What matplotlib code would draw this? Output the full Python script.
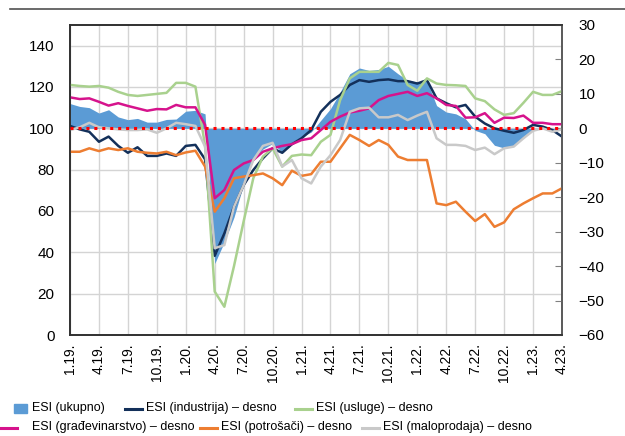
import numpy as np
import matplotlib
matplotlib.use("Agg")
import matplotlib.pyplot as plt
from matplotlib.lines import Line2D
from matplotlib.patches import Rectangle

plt.rcParams['font.family'] = ['Liberation Sans', 'DejaVu Sans']

# mjesečni podaci 1.19. - 4.23.
months = [f"{m}.{y}." for y in range(19, 24) for m in range(1, 13)][:52]
tick_labels = months[::3]

ukupno = [112, 110.6, 110, 107.4, 109, 105.5, 104.2, 104.8, 103, 103, 104.3, 104.5,
          108.3, 108.7, 107, 34.6, 45, 57, 73, 84.5, 90, 92.6, 88.5, 93.4,
          95.8, 98.2, 103.9, 109.5, 117.5, 126.4, 129.2, 128, 128.5, 130, 126.4, 123.2,
          122.4, 123, 111, 107.9, 107, 104.6, 99, 97.4, 91.8, 90.5, 91.8, 95.8,
          99.5, 100.5, 99, 100]
industrija = [0.7, -0.3, -1, -3.9, -2.4, -5.1, -7.1, -5.5, -8, -8, -7.3, -8,
              -5.1, -4.8, -9, -37, -30.5, -22.8, -16.5, -12.1, -8.7, -5.8, -7.1, -4.6,
              -2.9, -0.5, 4.8, 7.7, 9.7, 12.6, 14, 13.5, 14, 14.2, 13.7, 13.7,
              13, 14, 8.7, 7.3, 6.1, 6.8, 3.4, 1.4, 0, -0.7, -1.3, -0.5,
              1, 0.5, -0.5, -2.4]
usluge = [12.6, 12.3, 12.1, 12.3, 11.8, 10.6, 9.7, 9.4, 9.7, 10, 10.3, 13.2,
          13.2, 12.1, -5, -47.4, -51.8, -40, -27, -14.5, -8.2, -5.8, -11.1, -8,
          -7.6, -7.8, -3.9, -1.9, 8.2, 14.5, 16.4, 16.4, 16.4, 19, 18.4, 12.6,
          10.9, 14.5, 13, 12.6, 12.5, 12.3, 8.7, 7.9, 5.5, 3.9, 4.4, 7.4,
          10.6, 9.7, 9.7, 10.8]
gradjevinarstvo = [9, 8.5, 8.7, 7.7, 6.6, 7.3, 6.5, 5.8, 5.1, 5.6, 5.5, 6.8,
                   6.1, 6.1, 1, -20.3, -17.9, -12.1, -10.2, -9.2, -6.8, -5.8, -5.1, -4.6,
                   -3.4, -2.9, -0.5, 1.9, 3.4, 4.6, 5.1, 5.8, 8.2, 9.4, 10, 10.6,
                   9.4, 10.2, 8.7, 6.8, 6.5, 3.1, 3.2, 4.4, 1.6, 3.1, 3, 3.7,
                   1.6, 1.6, 1.2, 1.2]
potrosaci = [-6.8, -6.8, -5.8, -6.6, -5.8, -6.3, -5.8, -6.8, -7.1, -7.3, -6.8, -7.8,
             -7, -6.5, -11.1, -24.2, -20.3, -14.5, -14, -13.6, -13.1, -14.5, -16.5, -12.3,
             -13.8, -13.3, -9.7, -9.7, -5.8, -1.9, -3.4, -5.1, -3.4, -4.8, -8.2, -9.2,
             -9.2, -9.2, -21.8, -22.3, -21.3, -24.2, -26.9, -24.9, -28.6, -27.3, -23.5, -21.8,
             -20.3, -18.9, -18.9, -17.4]
maloprodaja = [-0.5, 0.3, 1.6, 0.3, 0, -0.3, -0.5, -0.5, -0.3, -1.3, 0, 1.6,
               1.2, 0.7, -5.3, -34.8, -33.9, -22.8, -16.5, -9.2, -5.1, -4.2, -11.1, -9.2,
               -14.5, -16, -11.1, -7.8, -3.4, 4.8, 5.8, 6, 3.2, 3.2, 3.9, 2.4,
               3.7, 4.8, -2.9, -4.8, -4.8, -5.1, -6.3, -5.6, -7.5, -5.8, -5.3, -2.9,
               -0.7, 0, -1, -0.3]

c_blue = '#5b9bd5'
c_navy = '#13305a'
c_green = '#a9d18e'
c_mag = '#d6138c'
c_orange = '#ed7d31'
c_grey = '#c9c9c9'

W, H = 625, 436
fig = plt.figure(figsize=(W / 100, H / 100), dpi=100)
ax = fig.add_axes([70 / W, 1 - 335 / H, 492 / W, 310 / H])
ax2 = ax.twinx()

x = np.arange(len(months))

ax.fill_between(x, 100, ukupno, color=c_blue, lw=0, zorder=2)
ax.set_ylim(0, 150)
ax.set_yticks(range(0, 141, 20))
ax.set_xlim(0, len(months) - 1)
ax.set_xticks(x[::3])
ax.set_xticklabels(tick_labels, rotation=90, fontsize=10)
ax.tick_params(axis='x', length=0, pad=6)
ax.tick_params(axis='y', length=0, pad=11, labelsize=11)
ax.set_axisbelow(True)
ax.grid(True, color='#d4d4d4', lw=1)

lw = 1.8
ax2.plot(x, industrija, color=c_navy, lw=lw)
ax2.plot(x, usluge, color=c_green, lw=lw)
ax2.plot(x, gradjevinarstvo, color=c_mag, lw=lw)
ax2.plot(x, potrosaci, color=c_orange, lw=lw)
ax2.plot(x, maloprodaja, color=c_grey, lw=lw)
ax2.axhline(0, color='#ff0000', lw=2.2, linestyle=(0, (1, 1.6)), zorder=5)
ax2.set_ylim(-60, 30)
ax2.set_yticks(range(-60, 31, 10))
ax2.tick_params(axis='y', direction='in', length=5, color='#808080', pad=12, labelsize=11)

for a in (ax, ax2):
    for s in a.spines.values():
        s.set_color('#303030')
        s.set_linewidth(1.2)
ax2.spines['right'].set_color('#606060')

# linija na vrhu
fig.add_artist(Line2D([10 / W, 1], [1 - 9 / H, 1 - 9 / H], color='#505050', lw=1.2))

# legenda
def px(xp, yp):
    return xp / W, 1 - yp / H

fs = 9
y1, y2 = 408, 427
fig.add_artist(Rectangle(px(14, 413), 13 / W, 9 / H, color=c_blue))
fig.text(*px(32, y1), 'ESI (ukupno)', va='center', fontsize=fs)
items = [
    (125, y1, c_navy, 'ESI (industrija) – desno'),
    (295, y1, c_green, 'ESI (usluge) – desno'),
    (0, y2, c_mag, 'ESI (građevinarstvo) – desno'),
    (200, y2, c_orange, 'ESI (potrošači) – desno'),
    (362, y2, c_grey, 'ESI (maloprodaja) – desno'),
]
for xp, yp, col, lab in items:
    x0, yy = px(xp, yp + 1)
    fig.add_artist(Line2D([x0, x0 + 17 / W], [yy, yy], color=col, lw=2.2))
    fig.text(*px(xp + 21 if xp > 0 else 32, yp), lab, va='center', fontsize=fs)

fig.savefig('out.png', dpi=100)
